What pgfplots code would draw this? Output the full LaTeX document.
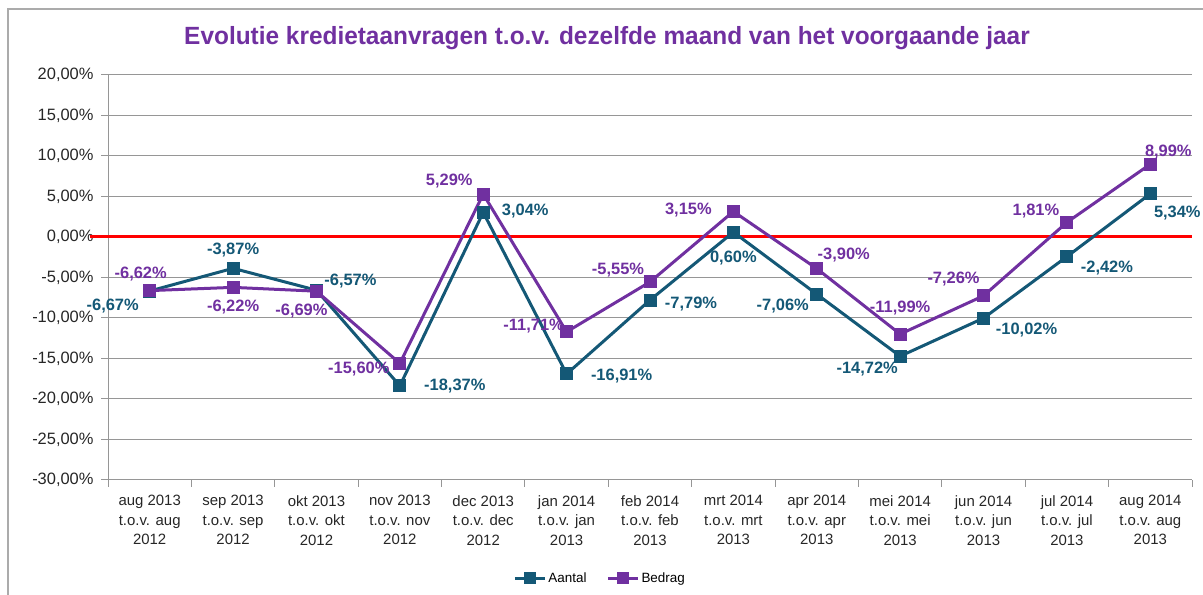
\documentclass[border=0pt]{standalone}
\usepackage{pgfplots}
\pgfplotsset{compat=1.18}
\usepackage{fontspec}
\setmainfont{Liberation Sans}
\definecolor{teal}{RGB}{20,88,118}
\definecolor{purp}{RGB}{112,48,160}
\definecolor{gridg}{RGB}{150,150,150}
\begin{document}
\begin{tikzpicture}[x=1bp,y=1bp]
\path[use as bounding box] (0,0) rectangle (1203,595);
\draw[gridg!80,line width=2bp] (8,0) -- (8,586) -- (1203,586);
\node[text=purp,font=\fontsize{25}{28}\selectfont\bfseries,xscale=0.98] at (607,557) {Evolutie kredietaanvragen t.o.v. dezelfde maand van het voorgaande jaar};
\begin{axis}[
  at={(108bp,115bp)}, anchor=south west,
  scale only axis, width=1084bp, height=405bp,
  xmin=-0.5, xmax=12.5, ymin=-30, ymax=20,
  ytick={-30,-25,...,20},
  yticklabel={\pgfmathprintnumber[fixed,fixed zerofill,precision=2,use comma]{\tick}\%},
  /pgf/number format/assume math mode=true,
  yticklabel style={font=\fontsize{16.5}{18}\selectfont, text=black!85, xshift=-4bp},
  xtick={0,...,12},
  xticklabels={{aug 2013\\t.o.v. aug\\2012},{sep 2013\\t.o.v. sep\\2012},{okt 2013\\t.o.v. okt\\2012},{nov 2013\\t.o.v. nov\\2012},{dec 2013\\t.o.v. dec\\2012},{jan 2014\\t.o.v. jan\\2013},{feb 2014\\t.o.v. feb\\2013},{mrt 2014\\t.o.v. mrt\\2013},{apr 2014\\t.o.v. apr\\2013},{mei 2014\\t.o.v. mei\\2013},{jun 2014\\t.o.v. jun\\2013},{jul 2014\\t.o.v. jul\\2013},{aug 2014\\t.o.v. aug\\2013}},
  xticklabel style={font=\fontsize{15}{19.5}\selectfont, align=center, text=black!85, yshift=-5bp},
  minor xtick={-0.5,0.5,...,12.5},
  major x tick style={draw=none},
  minor tick length=7bp,
  major tick length=7bp,
  tick align=outside,
  xtick pos=bottom, ytick pos=left,
  ymajorgrids, grid style={gridg, line width=1bp},
  axis line style={gridg, line width=1bp},
  axis x line*=bottom, axis y line*=left,
  tick style={gridg, line width=1bp},
  clip=false,
  legend style={at={(0.454,-0.243)}, anchor=center, draw=none, legend columns=2, font=\fontsize{13.5}{15}\selectfont, /tikz/every even column/.append style={column sep=18bp}},
  legend image code/.code={\draw[#1] (0bp,0bp) -- (30bp,0bp); \fill[#1] (10.5bp,-4.5bp) rectangle (19.5bp,4.5bp);},
]
\addplot[red, line width=3bp, forget plot] coordinates {(-0.72,0) (12.5,0)};
\addplot[teal, line width=3bp, mark=square*, mark size=5bp] coordinates {
(0,-6.67) (1,-3.87) (2,-6.57) (3,-18.37) (4,3.04) (5,-16.91) (6,-7.79) (7,0.60) (8,-7.06) (9,-14.72) (10,-10.02) (11,-2.42) (12,5.34)};
\addlegendentry{Aantal}
\addplot[purp, line width=3bp, mark=square*, mark size=5bp] coordinates {
(0,-6.62) (1,-6.22) (2,-6.69) (3,-15.60) (4,5.29) (5,-11.71) (6,-5.55) (7,3.15) (8,-3.90) (9,-11.99) (10,-7.26) (11,1.81) (12,8.99)};
\addlegendentry{Bedrag}
\tikzset{lab/.style={font=\fontsize{16.5}{18}\selectfont\bfseries, inner sep=0pt}}
% Aantal labels
\node[lab,text=teal] at (axis cs:0,-6.67) [xshift=-37bp,yshift=-15bp] {-6,67\%};
\node[lab,text=teal] at (axis cs:1,-3.87) [yshift=18bp] {-3,87\%};
\node[lab,text=teal] at (axis cs:2,-6.57) [xshift=34bp,yshift=9bp] {-6,57\%};
\node[lab,text=teal] at (axis cs:3,-18.37) [xshift=55bp,yshift=0bp] {-18,37\%};
\node[lab,text=teal] at (axis cs:4,3.04) [xshift=42bp,yshift=1bp] {3,04\%};
\node[lab,text=teal] at (axis cs:5,-16.91) [xshift=55bp,yshift=-2bp] {-16,91\%};
\node[lab,text=teal] at (axis cs:6,-7.79) [xshift=41bp,yshift=-4bp] {-7,79\%};
\node[lab,text=teal] at (axis cs:7,0.60) [xshift=0bp,yshift=-26bp] {0,60\%};
\node[lab,text=teal] at (axis cs:8,-7.06) [xshift=-34bp,yshift=-12bp] {-7,06\%};
\node[lab,text=teal] at (axis cs:9,-14.72) [xshift=-33bp,yshift=-13bp] {-14,72\%};
\node[lab,text=teal] at (axis cs:10,-10.02) [xshift=43bp,yshift=-12bp] {-10,02\%};
\node[lab,text=teal] at (axis cs:11,-2.42) [xshift=40bp,yshift=-11bp] {-2,42\%};
\node[lab,text=teal] at (axis cs:12,5.34) [xshift=27bp,yshift=-19bp] {5,34\%};
% Bedrag labels
\node[lab,text=purp] at (axis cs:0,-6.62) [xshift=-9bp,yshift=17bp] {-6,62\%};
\node[lab,text=purp] at (axis cs:1,-6.22) [xshift=0bp,yshift=-20bp] {-6,22\%};
\node[lab,text=purp] at (axis cs:2,-6.69) [xshift=-15bp,yshift=-20bp] {-6,69\%};
\node[lab,text=purp] at (axis cs:3,-15.60) [xshift=-41bp,yshift=-6bp] {-15,60\%};
\node[lab,text=purp] at (axis cs:4,5.29) [xshift=-34bp,yshift=13bp] {5,29\%};
\node[lab,text=purp] at (axis cs:5,-11.71) [xshift=-33bp,yshift=6bp] {-11,71\%};
\node[lab,text=purp] at (axis cs:6,-5.55) [xshift=-32bp,yshift=12bp] {-5,55\%};
\node[lab,text=purp] at (axis cs:7,3.15) [xshift=-45bp,yshift=1bp] {3,15\%};
\node[lab,text=purp] at (axis cs:8,-3.90) [xshift=27bp,yshift=14bp] {-3,90\%};
\node[lab,text=purp] at (axis cs:9,-11.99) [xshift=0bp,yshift=26bp] {-11,99\%};
\node[lab,text=purp] at (axis cs:10,-7.26) [xshift=-30bp,yshift=17bp] {-7,26\%};
\node[lab,text=purp] at (axis cs:11,1.81) [xshift=-31bp,yshift=11bp] {1,81\%};
\node[lab,text=purp] at (axis cs:12,8.99) [xshift=18bp,yshift=12bp] {8,99\%};
\end{axis}
\end{tikzpicture}
\end{document}
